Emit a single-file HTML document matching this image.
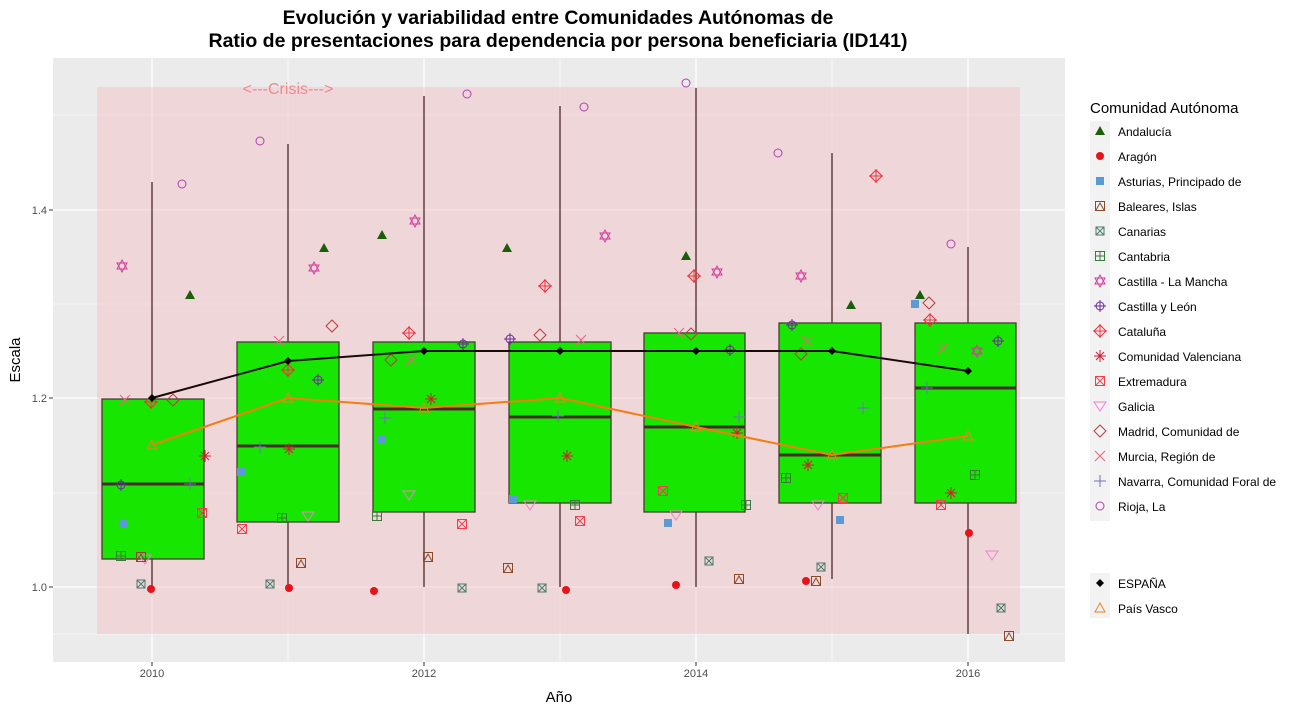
<!DOCTYPE html>
<html><head><meta charset="utf-8"><style>body{margin:0;background:#fff}svg{display:block}</style></head><body>
<svg width="1299" height="710" xmlns="http://www.w3.org/2000/svg" font-family="Liberation Sans, sans-serif">
<defs>
<g id="tri"><path d="M-5,4 L5,4 L0,-5Z" fill="#1a5e0a"/></g>
<g id="dot"><circle r="4" fill="#e8121a"/></g>
<g id="sq"><rect x="-4" y="-4" width="8" height="8" fill="#5b9bd5"/></g>
<g id="bal" fill="none" stroke="#8b4a2a" stroke-width="1"><rect x="-4.5" y="-4.5" width="9" height="9"/><path d="M-4,4 L0,-3 L4,4"/></g>
<g id="can" fill="none" stroke="#4a7a6a" stroke-width="1"><rect x="-4" y="-4" width="8" height="8"/><path d="M-4,-4L4,4M4,-4L-4,4"/></g>
<g id="cant" fill="none" stroke="#3a7a3a" stroke-width="1"><rect x="-4.5" y="-4.5" width="9" height="9"/><path d="M0,-4.5V4.5M-4.5,0H4.5"/></g>
<g id="star" fill="none" stroke="#d33c9c" stroke-width="1"><path d="M-5,3L5,3L0,-6Z M-5,-3L5,-3L0,6Z"/></g>
<g id="cyl" fill="none" stroke="#6a2a9a" stroke-width="1"><circle r="4"/><path d="M0,-6V6M-6,0H6"/></g>
<g id="cat" fill="none" stroke="#f0303a" stroke-width="1"><path d="M0,-6L6,0L0,6L-6,0Z M0,-7V7M-7,0H7"/></g>
<g id="val" fill="none" stroke="#d02030" stroke-width="1"><path d="M0,-6V6M-6,0H6M-4,-4L4,4M4,-4L-4,4"/></g>
<g id="ext" fill="none" stroke="#f04050" stroke-width="1"><rect x="-4.5" y="-4.5" width="9" height="9"/><path d="M-4,-4L4,4M4,-4L-4,4"/></g>
<g id="gal" fill="none" stroke="#f080d0" stroke-width="1"><path d="M-6,-4L6,-4L0,5Z"/></g>
<g id="mad" fill="none" stroke="#b04040" stroke-width="1"><path d="M0,-6L6,0L0,6L-6,0Z"/></g>
<g id="mur" fill="none" stroke="#f06080" stroke-width="1"><path d="M-5,-5L5,5M5,-5L-5,5"/></g>
<g id="nav" fill="none" stroke="#7070c0" stroke-width="1"><path d="M0,-6V6M-6,0H6"/></g>
<g id="rio" fill="none" stroke="#b040b0" stroke-width="1"><circle r="4"/></g>
<g id="esp"><path d="M0,-4L4,0L0,4L-4,0Z" fill="#000"/></g>
<g id="pv"><path d="M-5,4L5,4L0,-5Z" fill="none" stroke="#f08020"/></g>
</defs>
<text x="558" y="24" font-size="19.5" font-weight="bold" text-anchor="middle" fill="#000">Evolución y variabilidad entre Comunidades Autónomas de</text>
<text x="558" y="47" font-size="19.5" font-weight="bold" text-anchor="middle" fill="#000">Ratio de presentaciones para dependencia por persona beneficiaria (ID141)</text>
<rect x="53" y="58" width="1012" height="604" fill="#ebebeb"/>
<g stroke="#fff" stroke-width="0.6"><line x1="53" x2="1065" y1="493" y2="493"/><line x1="53" x2="1065" y1="304" y2="304"/><line x1="53" x2="1065" y1="115" y2="115"/><line x1="53" x2="1065" y1="634" y2="634"/>
<line y1="58" y2="662" x1="288" x2="288"/><line y1="58" y2="662" x1="560" x2="560"/><line y1="58" y2="662" x1="832" x2="832"/></g>
<g stroke="#fff" stroke-width="1.2"><line x1="53" x2="1065" y1="587" y2="587"/><line x1="53" x2="1065" y1="398" y2="398"/><line x1="53" x2="1065" y1="210" y2="210"/>
<line y1="58" y2="662" x1="152" x2="152"/><line y1="58" y2="662" x1="424" x2="424"/><line y1="58" y2="662" x1="696" x2="696"/><line y1="58" y2="662" x1="968" x2="968"/></g>
<rect x="97" y="87" width="923" height="547" fill="#f4bcc4" opacity="0.45"/>
<text x="288" y="94" font-size="16" fill="#f08890" text-anchor="middle">&lt;---Crisis---&gt;</text>
<g stroke="#4a2a2a" stroke-width="1.3">
<line x1="152" x2="152" y1="182" y2="587"/><line x1="288" x2="288" y1="144" y2="588"/><line x1="424" x2="424" y1="96" y2="587"/><line x1="560" x2="560" y1="106" y2="587"/><line x1="696" x2="696" y1="88" y2="587"/><line x1="832" x2="832" y1="153" y2="579"/><line x1="968" x2="968" y1="247" y2="634"/>
</g>
<g fill="#17e600" stroke="#4a3a3a" stroke-width="1.3">
<rect x="102" y="399" width="102" height="160"/><rect x="237" y="342" width="102" height="180"/><rect x="373" y="342" width="102" height="170"/><rect x="509" y="342" width="102" height="161"/><rect x="644" y="333" width="101" height="179"/><rect x="779" y="323" width="102" height="180"/><rect x="915" y="323" width="101" height="180"/>
</g>
<g stroke="#4a2a2a" stroke-width="3"><line x1="102" x2="204" y1="484" y2="484"/><line x1="237" x2="339" y1="446" y2="446"/><line x1="373" x2="475" y1="409" y2="409"/><line x1="509" x2="611" y1="417" y2="417"/><line x1="644" x2="745" y1="427" y2="427"/><line x1="779" x2="881" y1="455" y2="455"/><line x1="915" x2="1016" y1="388" y2="388"/></g>
<g>
<use href="#tri" x="190" y="295"/><use href="#tri" x="324" y="248"/><use href="#tri" x="382" y="235"/><use href="#tri" x="507" y="248"/><use href="#tri" x="686" y="256"/><use href="#tri" x="851" y="305"/><use href="#tri" x="920" y="295"/>
<use href="#dot" x="151" y="589"/><use href="#dot" x="289" y="588"/><use href="#dot" x="374" y="591"/><use href="#dot" x="566" y="590"/><use href="#dot" x="676" y="585"/><use href="#dot" x="806" y="581"/><use href="#dot" x="969" y="533"/>
<use href="#sq" x="123" y="524"/><use href="#sq" x="241" y="472"/><use href="#sq" x="381" y="440"/><use href="#sq" x="513" y="499"/><use href="#sq" x="668" y="523"/><use href="#sq" x="840" y="520"/><use href="#sq" x="915" y="304"/>
<use href="#rio" x="182" y="184"/><use href="#rio" x="260" y="141"/><use href="#rio" x="467" y="94"/><use href="#rio" x="584" y="107"/><use href="#rio" x="686" y="83"/><use href="#rio" x="778" y="153"/><use href="#rio" x="951" y="244"/>
<use href="#star" x="122" y="266"/><use href="#star" x="314" y="268"/><use href="#star" x="415" y="221"/><use href="#star" x="605" y="236"/><use href="#star" x="717" y="272"/><use href="#star" x="801" y="276"/><use href="#star" x="977" y="351"/>
<use href="#cat" x="151" y="402"/><use href="#cat" x="288" y="370"/><use href="#cat" x="409" y="333"/><use href="#cat" x="545" y="286"/><use href="#cat" x="694" y="276"/><use href="#cat" x="876" y="176"/><use href="#cat" x="930" y="320"/>
<use href="#mad" x="173" y="400"/><use href="#mad" x="332" y="326"/><use href="#mad" x="391" y="360"/><use href="#mad" x="540" y="335"/><use href="#mad" x="691" y="334"/><use href="#mad" x="801" y="354"/><use href="#mad" x="929" y="303"/>
<use href="#mur" x="125" y="400"/><use href="#mur" x="279" y="341"/><use href="#mur" x="411" y="360"/><use href="#mur" x="581" y="340"/><use href="#mur" x="679" y="333"/><use href="#mur" x="807" y="341"/><use href="#mur" x="943" y="348"/>
<use href="#ext" x="202" y="513"/><use href="#ext" x="242" y="529"/><use href="#ext" x="462" y="524"/><use href="#ext" x="580" y="521"/><use href="#ext" x="663" y="491"/><use href="#ext" x="843" y="498"/><use href="#ext" x="941" y="505"/>
<use href="#gal" x="145" y="559"/><use href="#gal" x="308" y="516"/><use href="#gal" x="409" y="495"/><use href="#gal" x="530" y="505"/><use href="#gal" x="676" y="515"/><use href="#gal" x="818" y="505"/><use href="#gal" x="992" y="555"/>
<use href="#val" x="205" y="456"/><use href="#val" x="289" y="449"/><use href="#val" x="431" y="399"/><use href="#val" x="567" y="456"/><use href="#val" x="737" y="433"/><use href="#val" x="808" y="465"/><use href="#val" x="951" y="493"/>
<use href="#nav" x="190" y="484"/><use href="#nav" x="260" y="447"/><use href="#nav" x="385" y="418"/><use href="#nav" x="558" y="416"/><use href="#nav" x="739" y="417"/><use href="#nav" x="863" y="408"/><use href="#nav" x="927" y="388"/>
<use href="#cyl" x="121" y="485"/><use href="#cyl" x="318" y="380"/><use href="#cyl" x="463" y="344"/><use href="#cyl" x="510" y="339"/><use href="#cyl" x="730" y="350"/><use href="#cyl" x="792" y="325"/><use href="#cyl" x="998" y="341"/>
<use href="#bal" x="141" y="557"/><use href="#bal" x="301" y="563"/><use href="#bal" x="428" y="557"/><use href="#bal" x="508" y="568"/><use href="#bal" x="739" y="579"/><use href="#bal" x="816" y="581"/><use href="#bal" x="1009" y="636"/>
<use href="#can" x="141" y="584"/><use href="#can" x="270" y="584"/><use href="#can" x="462" y="588"/><use href="#can" x="542" y="588"/><use href="#can" x="709" y="561"/><use href="#can" x="821" y="567"/><use href="#can" x="1001" y="608"/>
<use href="#cant" x="121" y="556"/><use href="#cant" x="282" y="518"/><use href="#cant" x="377" y="516"/><use href="#cant" x="575" y="505"/><use href="#cant" x="746" y="505"/><use href="#cant" x="786" y="478"/><use href="#cant" x="975" y="475"/>
</g>
<polyline points="152,445 288,398 424,408 560,398 696,427 832,455 968,436" fill="none" stroke="#f57c10" stroke-width="2"/>
<g><use href="#pv" x="152" y="445"/><use href="#pv" x="288" y="398"/><use href="#pv" x="424" y="408"/><use href="#pv" x="560" y="398"/><use href="#pv" x="696" y="427"/><use href="#pv" x="832" y="455"/><use href="#pv" x="968" y="436"/></g>
<polyline points="152,398 288,361 424,351 560,351 696,351 832,351 968,371" fill="none" stroke="#1a0a0a" stroke-width="2"/>
<g><use href="#esp" x="152" y="398"/><use href="#esp" x="288" y="361"/><use href="#esp" x="424" y="351"/><use href="#esp" x="560" y="351"/><use href="#esp" x="696" y="351"/><use href="#esp" x="832" y="351"/><use href="#esp" x="968" y="371"/></g>
<g font-size="11" fill="#4d4d4d" text-anchor="end"><text x="47" y="591">1.0</text><text x="47" y="402">1.2</text><text x="47" y="214">1.4</text></g>
<g stroke="#333" stroke-width="1"><line x1="49" x2="53" y1="587" y2="587"/><line x1="49" x2="53" y1="398" y2="398"/><line x1="49" x2="53" y1="210" y2="210"/>
<line x1="152" x2="152" y1="662" y2="666"/><line x1="424" x2="424" y1="662" y2="666"/><line x1="696" x2="696" y1="662" y2="666"/><line x1="968" x2="968" y1="662" y2="666"/></g>
<g font-size="11" fill="#4d4d4d" text-anchor="middle"><text x="152" y="677">2010</text><text x="424" y="677">2012</text><text x="696" y="677">2014</text><text x="968" y="677">2016</text></g>
<text x="559" y="702" font-size="15" text-anchor="middle" fill="#000">Año</text>
<text transform="translate(20,360) rotate(-90)" font-size="15" text-anchor="middle" fill="#000">Escala</text>
<text x="1090" y="113" font-size="15" fill="#000">Comunidad Autónoma</text>
<g fill="#f2f2f2">
<rect x="1090" y="121" width="20" height="400"/><rect x="1090" y="573" width="20" height="45"/>
</g>
<g>
<use href="#tri" x="1100" y="131"/><use href="#dot" x="1100" y="156"/><use href="#sq" x="1100" y="181"/><use href="#bal" x="1100" y="206"/><use href="#can" x="1100" y="231"/><use href="#cant" x="1100" y="256"/><use href="#star" x="1100" y="281"/><use href="#cyl" x="1100" y="306"/><use href="#cat" x="1100" y="331"/><use href="#val" x="1100" y="356"/><use href="#ext" x="1100" y="381"/><use href="#gal" x="1100" y="406"/><use href="#mad" x="1100" y="431"/><use href="#mur" x="1100" y="456"/><use href="#nav" x="1100" y="481"/><use href="#rio" x="1100" y="506"/>
<use href="#esp" x="1100" y="583"/><use href="#pv" x="1100" y="608"/>
</g>
<g font-size="12" fill="#000">
<text x="1118" y="136">Andalucía</text><text x="1118" y="161">Aragón</text><text x="1118" y="186">Asturias, Principado de</text><text x="1118" y="211">Baleares, Islas</text><text x="1118" y="236">Canarias</text><text x="1118" y="261">Cantabria</text><text x="1118" y="286">Castilla - La Mancha</text><text x="1118" y="311">Castilla y León</text><text x="1118" y="336">Cataluña</text><text x="1118" y="361">Comunidad Valenciana</text><text x="1118" y="386">Extremadura</text><text x="1118" y="411">Galicia</text><text x="1118" y="436">Madrid, Comunidad de</text><text x="1118" y="461">Murcia, Región de</text><text x="1118" y="486">Navarra, Comunidad Foral de</text><text x="1118" y="511">Rioja, La</text>
<text x="1118" y="588">ESPAÑA</text><text x="1118" y="613">País Vasco</text>
</g>
</svg>
</body></html>
